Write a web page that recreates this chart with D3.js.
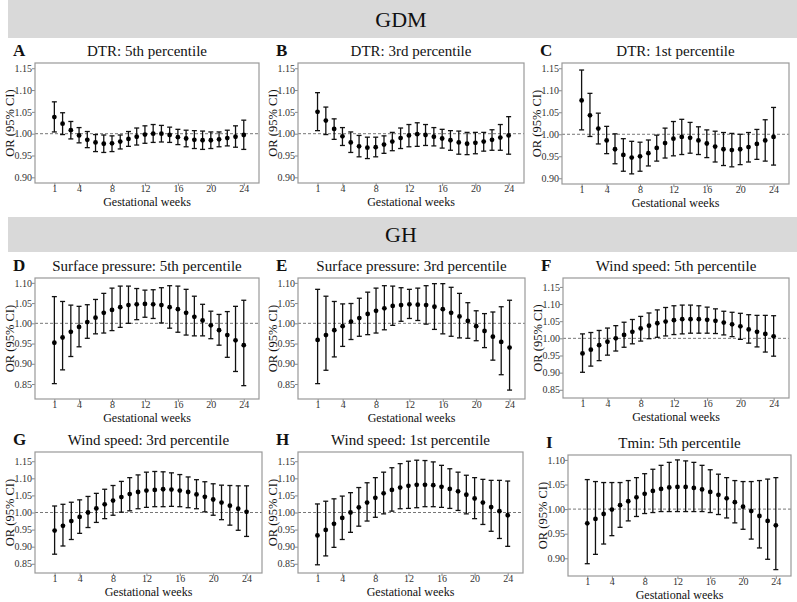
<!DOCTYPE html>
<html>
<head>
<meta charset="utf-8">
<script src="https://cdn.jsdelivr.net/npm/d3@7"></script>
<style>
  body { margin: 0; background: #fff; }
  svg text { font-family: "Liberation Serif", "Times New Roman", Times, "DejaVu Serif", serif; }
</style>
</head>
<body>
<div id="chart"></div>
<script>
const width = 797;
const height = 602;
const serif = '"Liberation Serif", "Times New Roman", Times, "DejaVu Serif", serif';

// gestational weeks (x categories)
const weeks = [1, 2, 3, 4, 5, 6, 7, 8, 9, 10, 11, 12, 13, 14, 15, 16, 17, 18, 19, 20, 21, 22, 23, 24];
const xTicks = [1, 4, 8, 12, 16, 20, 24];

// A: DTR 5th percentile (GDM)
const dtr5Est = [1.038, 1.023, 1.008, 0.996, 0.986, 0.980, 0.977, 0.978, 0.982, 0.988, 0.993, 0.998, 1.000, 1.000, 0.997, 0.992, 0.989, 0.986, 0.985, 0.985, 0.987, 0.990, 0.993, 0.997];
const dtr5Lo = [1.004, 0.998, 0.988, 0.979, 0.968, 0.959, 0.957, 0.959, 0.965, 0.971, 0.974, 0.978, 0.980, 0.981, 0.980, 0.975, 0.970, 0.966, 0.964, 0.966, 0.970, 0.972, 0.969, 0.964];
const dtr5Hi = [1.073, 1.048, 1.028, 1.014, 1.005, 0.998, 0.997, 0.995, 0.997, 1.005, 1.013, 1.018, 1.021, 1.019, 1.015, 1.010, 1.008, 1.007, 1.006, 1.004, 1.004, 1.008, 1.018, 1.031];

// B: DTR 3rd percentile (GDM)
const dtr3Est = [1.050, 1.030, 1.011, 0.994, 0.980, 0.971, 0.968, 0.969, 0.975, 0.982, 0.990, 0.996, 0.999, 0.997, 0.993, 0.989, 0.985, 0.980, 0.977, 0.979, 0.982, 0.986, 0.991, 0.996];
const dtr3Lo = [1.007, 0.998, 0.987, 0.973, 0.957, 0.947, 0.943, 0.947, 0.955, 0.961, 0.966, 0.970, 0.971, 0.973, 0.972, 0.967, 0.962, 0.953, 0.952, 0.954, 0.960, 0.962, 0.962, 0.953];
const dtr3Hi = [1.094, 1.061, 1.034, 1.014, 1.004, 0.996, 0.992, 0.992, 0.995, 1.003, 1.013, 1.021, 1.025, 1.021, 1.014, 1.010, 1.007, 1.006, 1.003, 1.003, 1.003, 1.009, 1.021, 1.039];

// C: DTR 1st percentile (GDM)
const dtr1Est = [1.077, 1.043, 1.013, 0.986, 0.966, 0.953, 0.947, 0.950, 0.957, 0.969, 0.980, 0.990, 0.994, 0.992, 0.986, 0.979, 0.972, 0.966, 0.964, 0.966, 0.971, 0.978, 0.986, 0.994];
const dtr1Lo = [1.010, 0.995, 0.978, 0.956, 0.933, 0.916, 0.910, 0.916, 0.928, 0.939, 0.946, 0.951, 0.954, 0.957, 0.954, 0.947, 0.937, 0.929, 0.926, 0.931, 0.937, 0.943, 0.939, 0.930];
const dtr1Hi = [1.146, 1.093, 1.048, 1.018, 1.001, 0.990, 0.984, 0.982, 0.987, 0.998, 1.014, 1.029, 1.034, 1.027, 1.017, 1.010, 1.007, 1.004, 1.002, 1.000, 1.004, 1.011, 1.033, 1.061];

// D: Surface pressure 5th percentile (GH)
const sp5Est = [0.952, 0.965, 0.979, 0.991, 1.003, 1.014, 1.026, 1.033, 1.040, 1.045, 1.047, 1.048, 1.047, 1.045, 1.040, 1.035, 1.026, 1.016, 1.007, 0.995, 0.983, 0.971, 0.958, 0.946];
const sp5Lo = [0.851, 0.885, 0.918, 0.942, 0.963, 0.974, 0.976, 0.982, 0.990, 1.000, 1.009, 1.015, 1.012, 1.001, 0.988, 0.978, 0.971, 0.969, 0.969, 0.962, 0.946, 0.916, 0.881, 0.846];
const sp5Hi = [1.066, 1.054, 1.045, 1.042, 1.046, 1.059, 1.074, 1.087, 1.092, 1.092, 1.086, 1.082, 1.083, 1.088, 1.093, 1.092, 1.084, 1.067, 1.047, 1.030, 1.022, 1.029, 1.042, 1.057];

// E: Surface pressure 3rd percentile (GH)
const sp3Est = [0.959, 0.971, 0.983, 0.993, 1.004, 1.013, 1.023, 1.031, 1.037, 1.043, 1.045, 1.047, 1.046, 1.045, 1.041, 1.035, 1.026, 1.017, 1.006, 0.993, 0.981, 0.967, 0.954, 0.940];
const sp3Lo = [0.851, 0.884, 0.917, 0.943, 0.960, 0.968, 0.972, 0.976, 0.984, 0.995, 1.005, 1.012, 1.007, 0.998, 0.985, 0.974, 0.968, 0.964, 0.963, 0.957, 0.940, 0.909, 0.873, 0.835];
const sp3Hi = [1.084, 1.067, 1.054, 1.048, 1.049, 1.062, 1.077, 1.087, 1.093, 1.092, 1.088, 1.084, 1.087, 1.093, 1.098, 1.098, 1.089, 1.074, 1.051, 1.031, 1.024, 1.028, 1.041, 1.057];

// F: Wind speed 5th percentile (GH)
const ws5Est = [0.956, 0.967, 0.980, 0.990, 1.000, 1.010, 1.019, 1.029, 1.037, 1.044, 1.049, 1.053, 1.056, 1.056, 1.056, 1.054, 1.051, 1.046, 1.041, 1.035, 1.026, 1.019, 1.013, 1.006];
const ws5Lo = [0.901, 0.919, 0.935, 0.951, 0.963, 0.974, 0.984, 0.992, 0.999, 1.003, 1.007, 1.011, 1.013, 1.015, 1.015, 1.015, 1.014, 1.010, 1.005, 0.997, 0.986, 0.975, 0.960, 0.948];
const ws5Hi = [1.013, 1.017, 1.023, 1.030, 1.037, 1.047, 1.055, 1.064, 1.074, 1.083, 1.090, 1.095, 1.097, 1.097, 1.095, 1.091, 1.086, 1.079, 1.076, 1.073, 1.069, 1.067, 1.067, 1.066];

// G: Wind speed 3rd percentile (GH)
const ws3Est = [0.947, 0.961, 0.975, 0.987, 1.000, 1.012, 1.024, 1.035, 1.045, 1.054, 1.060, 1.064, 1.066, 1.068, 1.067, 1.064, 1.060, 1.053, 1.046, 1.038, 1.029, 1.020, 1.011, 1.002];
const ws3Lo = [0.878, 0.902, 0.921, 0.939, 0.956, 0.971, 0.982, 0.992, 1.001, 1.005, 1.011, 1.015, 1.017, 1.017, 1.018, 1.017, 1.014, 1.011, 1.002, 0.992, 0.979, 0.963, 0.948, 0.930];
const ws3Hi = [1.019, 1.024, 1.030, 1.037, 1.047, 1.056, 1.068, 1.079, 1.091, 1.102, 1.110, 1.118, 1.120, 1.119, 1.116, 1.111, 1.104, 1.096, 1.090, 1.084, 1.080, 1.079, 1.078, 1.078];

// H: Wind speed 1st percentile (GH)
const ws1Est = [0.933, 0.949, 0.967, 0.984, 1.000, 1.015, 1.029, 1.043, 1.056, 1.066, 1.073, 1.078, 1.081, 1.081, 1.080, 1.075, 1.069, 1.062, 1.052, 1.041, 1.029, 1.016, 1.004, 0.992];
const ws1Lo = [0.847, 0.873, 0.898, 0.921, 0.942, 0.960, 0.975, 0.986, 0.996, 1.004, 1.011, 1.012, 1.014, 1.017, 1.017, 1.015, 1.012, 1.006, 0.996, 0.982, 0.965, 0.945, 0.924, 0.901];
const ws1Hi = [1.025, 1.033, 1.040, 1.048, 1.058, 1.073, 1.087, 1.102, 1.118, 1.131, 1.143, 1.150, 1.153, 1.152, 1.148, 1.138, 1.128, 1.118, 1.109, 1.102, 1.097, 1.094, 1.094, 1.092];

// I: Tmin 5th percentile (GH)
const tmin5Est = [0.971, 0.980, 0.990, 0.999, 1.008, 1.016, 1.024, 1.031, 1.037, 1.041, 1.044, 1.045, 1.045, 1.043, 1.040, 1.035, 1.029, 1.022, 1.014, 1.005, 0.996, 0.986, 0.976, 0.967];
const tmin5Lo = [0.889, 0.908, 0.929, 0.946, 0.963, 0.976, 0.985, 0.991, 0.993, 0.995, 0.995, 0.995, 0.995, 0.995, 0.995, 0.993, 0.989, 0.982, 0.972, 0.959, 0.939, 0.921, 0.898, 0.877];
const tmin5Hi = [1.060, 1.056, 1.054, 1.054, 1.054, 1.058, 1.064, 1.072, 1.081, 1.089, 1.095, 1.100, 1.098, 1.095, 1.089, 1.080, 1.071, 1.064, 1.058, 1.056, 1.056, 1.058, 1.061, 1.064];

// y tick sets
const ticksDTR = [0.90, 0.95, 1.00, 1.05, 1.10, 1.15];
const ticksSP = [0.85, 0.90, 0.95, 1.00, 1.05, 1.10];
const ticksWS = [0.85, 0.90, 0.95, 1.00, 1.05, 1.10, 1.15];
const ticksTmin = [0.90, 0.95, 1.00, 1.05, 1.10];

// panel layout (plot box in pixels)
const panels = [
  { tag: 'A', title: 'DTR: 5th percentile', est: dtr5Est, lo: dtr5Lo, hi: dtr5Hi, ticks: ticksDTR, ydom: [0.887, 1.162], box: [35, 63, 259, 183] },
  { tag: 'B', title: 'DTR: 3rd percentile', est: dtr3Est, lo: dtr3Lo, hi: dtr3Hi, ticks: ticksDTR, ydom: [0.887, 1.162], box: [298, 63, 524, 183] },
  { tag: 'C', title: 'DTR: 1st percentile', est: dtr1Est, lo: dtr1Lo, hi: dtr1Hi, ticks: ticksDTR, ydom: [0.887, 1.162], box: [562, 63, 789, 184] },
  { tag: 'D', title: 'Surface pressure: 5th percentile', est: sp5Est, lo: sp5Lo, hi: sp5Hi, ticks: ticksSP, ydom: [0.813, 1.112], box: [35, 278, 259, 399] },
  { tag: 'E', title: 'Surface pressure: 3rd percentile', est: sp3Est, lo: sp3Lo, hi: sp3Hi, ticks: ticksSP, ydom: [0.813, 1.112], box: [298, 278, 525, 399] },
  { tag: 'F', title: 'Wind speed: 5th percentile', est: ws5Est, lo: ws5Lo, hi: ws5Hi, ticks: ticksWS, ydom: [0.826, 1.176], box: [563, 278, 789, 398] },
  { tag: 'G', title: 'Wind speed: 3rd percentile', est: ws3Est, lo: ws3Lo, hi: ws3Hi, ticks: ticksWS, ydom: [0.823, 1.177], box: [35, 452, 262, 573] },
  { tag: 'H', title: 'Wind speed: 1st percentile', est: ws1Est, lo: ws1Lo, hi: ws1Hi, ticks: ticksWS, ydom: [0.823, 1.177], box: [298, 452, 523, 573] },
  { tag: 'I', title: 'Tmin: 5th percentile', est: tmin5Est, lo: tmin5Lo, hi: tmin5Hi, ticks: ticksTmin, ydom: [0.864, 1.110], box: [568, 455, 791, 576] }
];

const svg = d3
  .select('#chart')
  .append('svg')
  .attr('width', width)
  .attr('height', height)
  .attr('viewBox', [0, 0, width, height])
  .attr('font-family', serif);

// group header bands
const bands = [
  { label: 'GDM', y0: 0, y1: 38 },
  { label: 'GH', y0: 217, y1: 252 }
];
bands.forEach((b) => {
  svg.append('rect')
    .attr('x', 8).attr('y', b.y0)
    .attr('width', width - 8).attr('height', b.y1 - b.y0)
    .attr('fill', '#d9d9d9');
  svg.append('text')
    .attr('x', 401).attr('y', (b.y0 + b.y1) / 2)
    .attr('dy', '0.35em')
    .attr('text-anchor', 'middle')
    .attr('font-size', 22)
    .attr('font-family', serif)
    .attr('fill', '#111')
    .text(b.label);
});

panels.forEach(drawPanel);

function drawPanel(p) {
  const [left, top, right, bottom] = p.box;
  const g = svg.append('g').attr('font-family', serif);

  const x = d3.scaleLinear().domain([-1.35, 25.85]).range([left, right]);
  const y = d3.scaleLinear().domain(p.ydom).range([bottom, top]);

  // reference line at OR = 1
  g.append('line')
    .attr('x1', left).attr('x2', right)
    .attr('y1', y(1)).attr('y2', y(1))
    .attr('stroke', '#777')
    .attr('stroke-width', 1)
    .attr('stroke-dasharray', '3,2');

  // axes
  const xAxis = g.append('g')
    .attr('transform', `translate(0,${bottom})`)
    .call(d3.axisBottom(x).tickValues(xTicks).tickSize(3).tickPadding(-1).tickFormat(d3.format('d')));
  const yAxis = g.append('g')
    .attr('transform', `translate(${left},0)`)
    .call(d3.axisLeft(y).tickValues(p.ticks).tickSize(3).tickPadding(0).tickFormat(d3.format('.2f')));
  [xAxis, yAxis].forEach((a) => {
    a.attr('font-family', serif).attr('font-size', 10);
    a.select('.domain').remove();
    a.selectAll('.tick line').attr('stroke', '#888');
    a.selectAll('.tick text')
      .attr('fill', '#333')
      .attr('font-size', 10)
      .attr('font-family', serif);
  });

  // error bars
  const cap = 2.5;
  const bars = g.append('g')
    .attr('stroke', '#111')
    .attr('stroke-width', 1.3);
  weeks.forEach((w, i) => {
    const cx = x(w);
    bars.append('line')
      .attr('x1', cx).attr('x2', cx)
      .attr('y1', y(p.lo[i])).attr('y2', y(p.hi[i]));
    bars.append('line')
      .attr('x1', cx - cap).attr('x2', cx + cap)
      .attr('y1', y(p.lo[i])).attr('y2', y(p.lo[i]));
    bars.append('line')
      .attr('x1', cx - cap).attr('x2', cx + cap)
      .attr('y1', y(p.hi[i])).attr('y2', y(p.hi[i]));
  });

  // point estimates
  g.append('g')
    .selectAll('circle')
    .data(weeks)
    .join('circle')
    .attr('cx', (d) => x(d))
    .attr('cy', (d, i) => y(p.est[i]))
    .attr('r', 2.4)
    .attr('fill', '#000');

  // panel border
  g.append('rect')
    .attr('x', left).attr('y', top)
    .attr('width', right - left).attr('height', bottom - top)
    .attr('fill', 'none')
    .attr('stroke', '#999')
    .attr('stroke-width', 1.2);

  // titles
  g.append('text')
    .attr('x', (left + right) / 2).attr('y', top - 7)
    .attr('text-anchor', 'middle')
    .attr('font-size', 15)
    .attr('fill', '#111')
    .text(p.title);
  g.append('text')
    .attr('x', left - 22).attr('y', top - 7)
    .attr('font-size', 17)
    .attr('font-weight', 'bold')
    .attr('fill', '#111')
    .text(p.tag);
  g.append('text')
    .attr('x', (left + right) / 2).attr('y', bottom + 22.5)
    .attr('text-anchor', 'middle')
    .attr('font-size', 12)
    .attr('fill', '#111')
    .text('Gestational weeks');
  g.append('text')
    .attr('transform', `translate(${left - 25},${(top + bottom) / 2}) rotate(-90)`)
    .attr('dy', '0.35em')
    .attr('text-anchor', 'middle')
    .attr('font-size', 12.5)
    .attr('fill', '#111')
    .text('OR (95% CI)');
}
</script>
</body>
</html>
